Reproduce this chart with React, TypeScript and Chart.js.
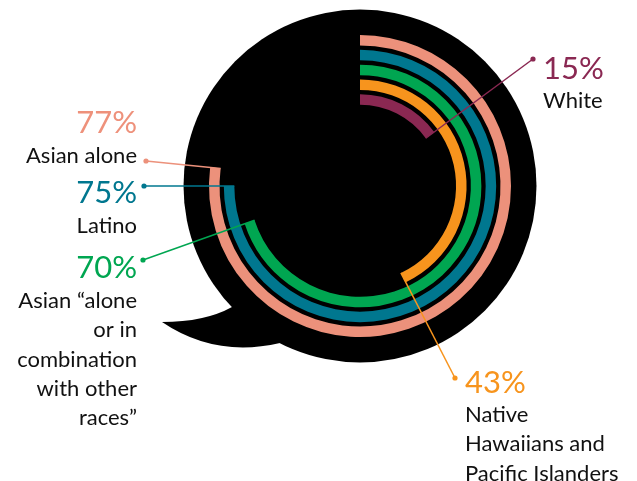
import React, { useEffect, useRef } from "react";
import { Chart, registerables } from "chart.js";

Chart.register(...registerables);

// ---- data ----
const categories = [
  "Asian alone",
  "Latino",
  "Asian “alone or in combination with other races”",
  "Native Hawaiians and Pacific Islanders",
  "White",
];
const values = [77, 75, 70, 43, 15];
const labelLines = [
  ["Asian alone"],
  ["Latino"],
  ["Asian “alone", "or in", "combination", "with other", "races”"],
  ["Native", "Hawaiians and", "Pacific Islanders"],
  ["White"],
];

// ---- styles / layout ----
const ringColors = ["#EC917B", "#00778F", "#00A651", "#F7941D", "#8A2852"];
const pctColors = ["#EE917B", "#00778F", "#00A651", "#F7941D", "#8A2852"];
const labelLayout = [
  { align: "right", x: 137, pctY: 133, textY: 163, dotX: 146, dotY: 161 },
  { align: "right", x: 137, pctY: 203, textY: 233, dotX: 144, dotY: 186 },
  { align: "right", x: 137, pctY: 278, textY: 308, dotX: 143, dotY: 260 },
  { align: "left", x: 465, pctY: 393, textY: 422, dotX: 455, dotY: 378 },
  { align: "left", x: 543, pctY: 79, textY: 108, dotX: 533, dotY: 59 },
];
const RING_WEIGHT = 10.5;
const GAP_WEIGHT = 4.3;
const LINE_H = 29.3;
const FONT = "Lato, 'Open Sans', sans-serif";

const bubblePlugin = {
  id: "bubble",
  beforeDatasetsDraw(chart: any) {
    const meta = chart.getDatasetMeta(0);
    const arc = meta.data[0];
    if (!arc) return;
    const cx = arc.x;
    const cy = arc.y;
    const R = arc.outerRadius;
    const k = R / 151;
    const ctx = chart.ctx;
    ctx.save();
    ctx.fillStyle = "#000";
    ctx.beginPath();
    ctx.arc(cx, cy, 176.5 * k, 0, Math.PI * 2);
    ctx.fill();
    // tail
    const P = (dx: number, dy: number) => [cx + dx * k, cy + dy * k];
    ctx.beginPath();
    let p = P(-128, 121);
    ctx.moveTo(p[0], p[1]);
    let c = P(-155, 136);
    let t = P(-198, 136);
    ctx.quadraticCurveTo(c[0], c[1], t[0], t[1]);
    c = P(-145, 172);
    t = P(-80, 157);
    ctx.quadraticCurveTo(c[0], c[1], t[0], t[1]);
    p = P(-40, 100);
    ctx.lineTo(p[0], p[1]);
    ctx.closePath();
    ctx.fill();
    ctx.restore();
  },
  afterDatasetsDraw(chart: any) {
    const ctx = chart.ctx;
    ctx.save();
    values.forEach((v, i) => {
      const meta = chart.getDatasetMeta(i * 2);
      const el = meta.data[0];
      if (!el) return;
      const L = labelLayout[i];
      const ang = el.endAngle;
      const ex = el.x + el.innerRadius * Math.cos(ang);
      const ey = el.y + el.innerRadius * Math.sin(ang);
      ctx.strokeStyle = ringColors[i];
      ctx.lineWidth = 1.5;
      ctx.beginPath();
      ctx.moveTo(L.dotX, L.dotY);
      ctx.lineTo(ex, ey);
      ctx.stroke();
      ctx.fillStyle = ringColors[i];
      ctx.beginPath();
      ctx.arc(L.dotX, L.dotY, 2.6, 0, Math.PI * 2);
      ctx.fill();

      ctx.textAlign = L.align;
      ctx.textBaseline = "alphabetic";
      ctx.fillStyle = pctColors[i];
      ctx.font = `31px ${FONT}`;
      ctx.fillText(`${v}%`, L.x, L.pctY);
      ctx.fillStyle = "#111";
      ctx.font = `22px ${FONT}`;
      labelLines[i].forEach((line, j) => {
        ctx.fillText(line, L.x, L.textY + j * LINE_H);
      });
    });
    ctx.restore();
  },
};

export default function App() {
  const ref = useRef<HTMLCanvasElement | null>(null);
  useEffect(() => {
    if (!ref.current) return;
    const datasets: any[] = [];
    values.forEach((v, i) => {
      datasets.push({
        label: categories[i],
        data: [v, 100 - v],
        backgroundColor: [ringColors[i], "rgba(0,0,0,0)"],
        borderWidth: 0,
        weight: RING_WEIGHT,
      });
      if (i < values.length - 1) {
        datasets.push({
          label: "gap",
          data: [100],
          backgroundColor: ["rgba(0,0,0,0)"],
          borderWidth: 0,
          weight: GAP_WEIGHT,
        });
      }
    });
    const chart = new Chart(ref.current, {
      type: "doughnut",
      data: { labels: ["value", "rest"], datasets },
      options: {
        animation: false,
        responsive: true,
        maintainAspectRatio: false,
        events: [],
        radius: 151,
        cutout: "53.8%",
        layout: { padding: { left: 83, right: 0, top: 0, bottom: 109 } },
        plugins: { legend: { display: false }, tooltip: { enabled: false } },
      } as any,
      plugins: [bubblePlugin],
    });
    return () => chart.destroy();
  }, []);
  return (
    <div style={{ position: "absolute", left: 0, top: 0, width: 637, height: 481 }}>
      <canvas ref={ref} />
    </div>
  );
}
